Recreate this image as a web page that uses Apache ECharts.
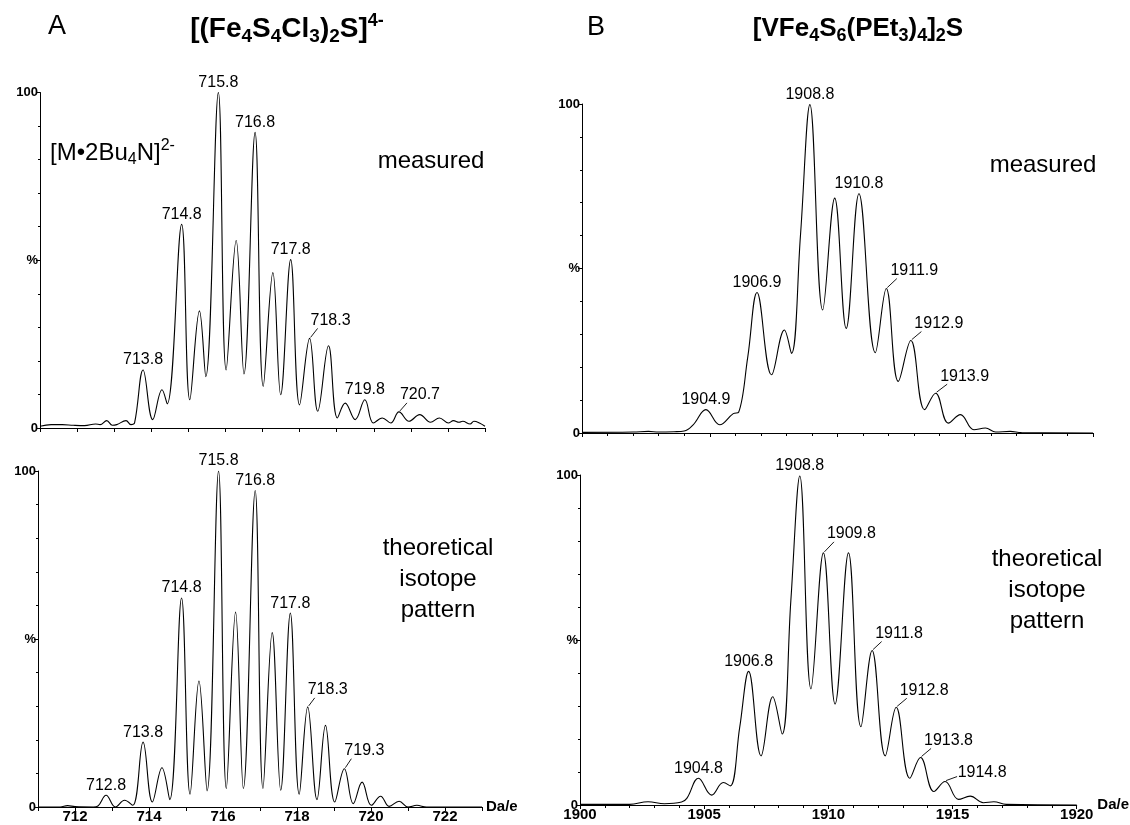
<!DOCTYPE html>
<html><head><meta charset="utf-8">
<script src="https://cdn.jsdelivr.net/npm/echarts@6/dist/echarts.min.js"></script>
<style>html,body{margin:0;padding:0;background:#fff}#c{width:1130px;height:825px}</style>
</head><body><div id="c"></div>
<script>
// ---- DATA ----
// Panel A, measured spectrum [m/z, %]
const feMeasured = [[711.0,0.5],[711.3,1.0],[711.6,1.0],[711.9,0.8],[712.2,0.7],[712.5,1.2],[712.62,1.0],[712.8,2.2],[712.95,0.8],[713.07,1.0],[713.32,2.2],[713.45,1.0],[713.55,1.5],
[713.78,17.3],[714.04,2.5],[714.29,11.4],[714.43,7.2],[714.82,60.7],[715.04,8.4],[715.30,34.9],[715.47,15.3],[715.81,100],[716.02,17.3],[716.29,55.9],[716.50,16.1],[716.80,88.1],[717.02,12.4],[717.28,46.3],[717.49,9.9],[717.76,50.2],[718.00,6.9],[718.27,26.7],[718.49,5.0],[718.78,24.5],[719.02,3.0],[719.23,7.4],[719.50,2.5],[719.76,8.4],[719.99,1.5],[720.23,3.0],[720.46,1.5],[720.68,4.8],[720.95,2.0],[721.24,4.0],[721.53,1.7],[721.77,3.0],[722.01,1.5],[722.15,2.2],[722.3,1.7],[722.4,2.0],[722.6,1.2],[722.7,2.0],[722.85,1.5],[723.0,0.5]];
// Panel A, theoretical isotope pattern
const feTheory = [[711.0,0],[711.6,0],[711.8,0.4],[712.0,0.1],[712.5,0],[712.62,0.3],[712.84,3.5],[713.09,0],[713.34,2.0],[713.56,0.5],[713.84,19.3],[714.09,1.5],[714.35,11.7],[714.56,2.2],[714.88,62.2],[715.11,3.8],[715.35,37.5],[715.57,4.8],[715.88,100],[716.09,5.5],[716.34,58],[716.55,5.5],[716.87,94.2],[717.08,5.5],[717.33,51.9],[717.56,5.0],[717.82,57.7],[718.06,3.8],[718.29,29.8],[718.54,2.2],[718.77,24.3],[719.02,1.5],[719.28,11.4],[719.52,1.0],[719.76,7.4],[720.01,0.5],[720.26,3.2],[720.49,0.2],[720.76,1.7],[721.0,0],[721.24,0.5],[721.5,0],[723,0]];
// Panel B, measured spectrum
const vMeasured = [[1900,0.2],[1902,0.3],[1902.6,0.5],[1903,0.3],[1903.6,0.4],[1904,0.6],[1904.35,2.5],[1904.85,7.1],[1905.39,2.5],[1905.92,5.9],[1906.13,6.3],[1906.49,23.2],[1906.85,42.7],[1907.42,17.7],[1907.92,31.3],[1908.2,24.2],[1908.55,60],[1908.92,99.8],[1909.42,37.4],[1909.89,71.4],[1910.34,31.8],[1910.84,72.7],[1911.48,24.4],[1911.91,43.9],[1912.38,15.7],[1912.87,28.1],[1913.41,7.1],[1913.84,12.1],[1914.34,3.0],[1914.81,5.6],[1915.34,1.0],[1915.79,1.5],[1916.19,0.3],[1916.76,0.5],[1917.2,0.1],[1920,0]];
// Panel B, theoretical isotope pattern
const vTheory = [[1900,0.2],[1902,0.2],[1902.74,1.0],[1903.4,0.4],[1904.09,0.9],[1904.3,2.0],[1904.77,8.1],[1905.30,3.0],[1905.77,6.8],[1906.05,5.8],[1906.43,23.5],[1906.79,40.5],[1907.29,14.9],[1907.76,32.8],[1908.14,21.5],[1908.49,62],[1908.85,99.7],[1909.30,35.2],[1909.80,76.4],[1910.27,30.6],[1910.81,76.4],[1911.31,23.7],[1911.76,46.8],[1912.29,14.9],[1912.73,29.6],[1913.28,8.1],[1913.71,14.4],[1914.25,4.1],[1914.70,7.1],[1915.24,1.7],[1915.71,2.7],[1916.24,0.7],[1916.66,1.0],[1917.16,0.2],[1920,0]];

// Peak annotations [m/z, %, text]
const feMeasuredPeaks = [[713.78,17.3,'713.8'],[714.82,60.7,'714.8'],[715.81,100,'715.8'],[716.80,88.1,'716.8'],[717.76,50.2,'717.8'],[718.27,26.7,'718.3'],[719.76,8.4,'719.8'],[720.68,4.8,'720.7']];
const feTheoryPeaks = [[712.84,3.5,'712.8'],[713.84,19.3,'713.8'],[714.88,62.2,'714.8'],[715.88,100,'715.8'],[716.87,94.2,'716.8'],[717.82,57.7,'717.8'],[718.29,29.8,'718.3'],[719.28,11.4,'719.3']];
const vMeasuredPeaks = [[1904.85,7.1,'1904.9'],[1906.85,42.7,'1906.9'],[1908.92,99.8,'1908.8'],[1910.84,72.7,'1910.8'],[1911.91,43.9,'1911.9'],[1912.87,28.1,'1912.9'],[1913.84,12.1,'1913.9']];
const vTheoryPeaks = [[1904.77,8.1,'1904.8'],[1906.79,40.5,'1906.8'],[1908.85,99.7,'1908.8'],[1909.80,76.4,'1909.8'],[1911.76,46.8,'1911.8'],[1912.73,29.6,'1912.8'],[1913.71,14.4,'1913.8'],[1914.70,7.1,'1914.8']];

// Axis ranges / tick labels
const feRange = [711, 723];
const vRange = [1900, 1920];
const yTickLabels = {0: '0', 50: '%', 100: '100'};
const xUnit = 'Da/e';

// ---- STYLE / LAYOUT ----
const FONT = '"Liberation Sans", Arial, Helvetica, sans-serif';
// label-centre offsets (px) for labels that use a leader line; optional 3rd/4th = leader end
const leaderOffsets = [
  {'718.3': [21, -18], '720.7': [21, -17]},
  {'718.3': [20, -17], '719.3': [20, -18]},
  {'1911.9': [28, -18], '1912.9': [28, -17], '1913.9': [29, -17]},
  {'1909.8': [28, -19], '1911.8': [27, -17], '1912.8': [28, -17], '1913.8': [28, -17], '1914.8': [37, -9, 12, -5]}
];
const grids = [
  {left: 40, top: 92.5, width: 445, height: 335.5},
  {left: 38, top: 471, width: 444, height: 336},
  {left: 582, top: 104, width: 511, height: 329},
  {left: 580, top: 475, width: 511, height: 330}
];
const spectra = [feMeasured, feTheory, vMeasured, vTheory];
const peaks = [feMeasuredPeaks, feTheoryPeaks, vMeasuredPeaks, vTheoryPeaks];

const axisLineStyle = {color: '#000', width: 1};
function xAxis(i) {
  const isFe = i < 2, bottom = (i % 2) === 1;
  const r = isFe ? feRange : vRange;
  return {
    type: 'value', gridIndex: i, min: r[0], max: r[1], interval: isFe ? 1 : 5,
    axisLine: {show: true, onZero: false, lineStyle: axisLineStyle},
    axisTick: {show: true, length: 4, lineStyle: axisLineStyle},
    minorTick: {show: !isFe, splitNumber: 5, length: 3, lineStyle: axisLineStyle},
    splitLine: {show: false},
    axisLabel: {show: bottom, color: '#000', fontFamily: FONT, fontWeight: 'bold', fontSize: 15, margin: 2,
      formatter: v => isFe ? (v % 2 === 0 ? String(v) : '') : String(v)},
    name: bottom ? xUnit : '', nameLocation: 'end', nameGap: 4,
    nameTextStyle: {color: '#000', fontFamily: FONT, fontWeight: 'bold', fontSize: 15}
  };
}
function yAxis(i) {
  return {
    type: 'value', gridIndex: i, min: 0, max: 100, interval: 50,
    axisLine: {show: true, lineStyle: axisLineStyle},
    axisTick: {show: true, length: 4, lineStyle: axisLineStyle},
    minorTick: {show: true, splitNumber: 5, length: 2, lineStyle: axisLineStyle},
    splitLine: {show: false},
    axisLabel: {color: '#000', fontFamily: FONT, fontWeight: 'bold', fontSize: 13, margin: 2,
      formatter: v => yTickLabels[v] !== undefined ? yTickLabels[v] : ''}
  };
}
const series = [];
for (let i = 0; i < 4; i++) {
  series.push({
    type: 'line', xAxisIndex: i, yAxisIndex: i, data: spectra[i], smooth: 0.4,
    symbol: 'none', showSymbol: false, silent: true,
    lineStyle: {color: '#000', width: 1.1}
  });
  const offs = leaderOffsets[i];
  const pk = peaks[i];
  series.push({
    type: 'custom', xAxisIndex: i, yAxisIndex: i, silent: true, clip: false,
    data: pk.map(p => [p[0], p[1]]),
    renderItem: (params, api) => {
      const c = api.coord([api.value(0), api.value(1)]);
      const text = pk[params.dataIndex][2];
      const o = offs[text];
      const children = [];
      if (o) {
        const w = (text.length - 1) * 8.9 + 4.4;
        const ex = o.length > 2 ? o[2] : o[0] - w / 2 + 7;
        const ey = o.length > 2 ? o[3] : o[1] + 8;
        children.push({type: 'line', shape: {x1: c[0] + 1, y1: c[1] - 1, x2: c[0] + ex, y2: c[1] + ey},
          style: {stroke: '#000', lineWidth: 0.9}});
      }
      const pos = o ? [c[0] + o[0], c[1] + o[1]] : [c[0], c[1] - 10];
      children.push({type: 'text', style: {text: text, x: pos[0], y: pos[1], align: 'center', verticalAlign: 'middle',
        fill: '#000', font: '16px ' + FONT}});
      return {type: 'group', children: children};
    }
  });
}

function txt(x, y, text, size, opts) {
  const st = Object.assign({text: text, x: x, y: y, fill: '#000', fontFamily: FONT, fontSize: size,
    align: 'center', textAlign: 'center', verticalAlign: 'middle', textVerticalAlign: 'middle'}, opts || {});
  return {type: 'text', silent: true, style: st};
}
const subS = (fs, w) => ({fontSize: fs, fontWeight: w, fontFamily: FONT, lineHeight: fs, verticalAlign: 'bottom', fill: '#000'});
const supS = (fs, w) => ({fontSize: fs, fontWeight: w, fontFamily: FONT, lineHeight: fs, verticalAlign: 'top', fill: '#000'});

const graphic = [
  txt(57, 27, 'A', 27),
  txt(596, 28, 'B', 27),
  txt(287, 29, '[(Fe{s|4}S{s|4}Cl{s|3}){s|2}S]{p|4-}', 28, {fontWeight: 'bold', lineHeight: 34,
    rich: {s: subS(19, 'bold'), p: supS(18, 'bold')}}),
  txt(858, 29, '[VFe{s|4}S{s|6}(PEt{s|3}){s|4}]{s|2}S', 26, {fontWeight: 'bold', lineHeight: 32,
    rich: {s: subS(18, 'bold')}}),
  txt(50, 153, '[M•2Bu{s|4}N]{p|2-}', 24, {align: 'left', textAlign: 'left', lineHeight: 30,
    rich: {s: subS(16, 'normal'), p: supS(16, 'normal')}}),
  txt(431, 161, 'measured', 24),
  txt(1043, 165, 'measured', 24),
  txt(438, 579, 'theoretical\nisotope\npattern', 24, {lineHeight: 31}),
  txt(1047, 590, 'theoretical\nisotope\npattern', 24, {lineHeight: 31})
];

const chart = echarts.init(document.getElementById('c'));
chart.setOption({
  animation: false,
  backgroundColor: '#fff',
  grid: grids,
  xAxis: [0, 1, 2, 3].map(xAxis),
  yAxis: [0, 1, 2, 3].map(yAxis),
  series: series,
  graphic: graphic
});
</script></body></html>
